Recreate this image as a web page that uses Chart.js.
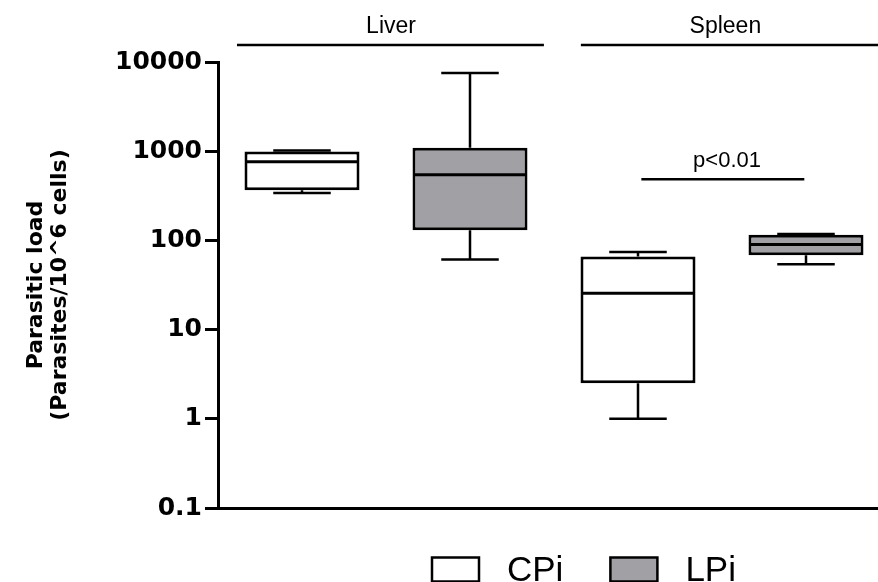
<!DOCTYPE html>
<html><head><meta charset="utf-8">
<script src="https://cdn.jsdelivr.net/npm/chart.js@4.4.1/dist/chart.umd.min.js"></script>
<style>html,body{margin:0;padding:0;background:#fff}#wrap{width:878px;height:582px}</style>
</head><body><div id="wrap"><canvas id="c" width="878" height="582"></canvas></div>
<script>
// ---- data ----
const groups = ['Liver', 'Spleen'];
const seriesNames = ['CPi', 'LPi'];
const cpiMin    = [339, 1.0];
const cpiQ1     = [366, 2.5];
const cpiMedian = [761, 25.5];
const cpiQ3     = [990, 66];
const cpiMax    = [1020, 74];
const lpiMin    = [61, 54];
const lpiQ1     = [130, 68];
const lpiMedian = [543, 90];
const lpiQ3     = [1091, 116];
const lpiMax    = [7550, 118];
const yTickValues = [0.1, 1, 10, 100, 1000, 10000];
const yTickLabels = ['0.1', '1', '10', '100', '1000', '10000'];
const pValueText = 'p<0.01';
const pValueLevel = 485;

// ---- layout / style (not data) ----
const annot = {
  groupSpans: [[0.613, 2.44], [2.66, 4.8]],
  groupLabelX: [1.53, 3.52],
  pSpan: [3.02, 3.99],
  pLabelX: 3.53
};
const GRAY = '#a1a0a4';
const UNIT_PX = 168;

function boxData(groupIdx, seriesIdx, q1, q3) {
  return groupIdx.map((g, i) => ({ x: g * 2 + seriesIdx + 1, y: [q1[i], q3[i]] }));
}
const idx = groups.map((_, i) => i);
const slotPositions = [];
groups.forEach((_, g) => seriesNames.forEach((_, s) => slotPositions.push(g * 2 + s + 1)));

const datasets = [
  { label: seriesNames[0], data: boxData(idx, 0, cpiQ1, cpiQ3),
    wMin: cpiMin, wMed: cpiMedian, wMax: cpiMax, wQ1: cpiQ1, wQ3: cpiQ3,
    backgroundColor: '#ffffff' },
  { label: seriesNames[1], data: boxData(idx, 1, lpiQ1, lpiQ3),
    wMin: lpiMin, wMed: lpiMedian, wMax: lpiMax, wQ1: lpiQ1, wQ3: lpiQ3,
    backgroundColor: GRAY }
].map(d => Object.assign(d, {
  borderColor: '#000', borderWidth: 3, borderSkipped: false,
  grouped: false, barPercentage: 115 / UNIT_PX, categoryPercentage: 1
}));

const whiskerPlugin = {
  id: 'whiskers',
  afterDatasetsDraw(chart) {
    const ctx = chart.ctx, y = chart.scales.y;
    chart.data.datasets.forEach((ds, di) => {
      const meta = chart.getDatasetMeta(di);
      meta.data.forEach((bar, i) => {
        const cx = bar.x, hw = bar.width / 2;
        const pMax = y.getPixelForValue(ds.wMax[i]);
        const pMin = y.getPixelForValue(ds.wMin[i]);
        const pQ3 = y.getPixelForValue(ds.wQ3[i]);
        const pQ1 = y.getPixelForValue(ds.wQ1[i]);
        const pMed = y.getPixelForValue(ds.wMed[i]);
        ctx.save();
        ctx.strokeStyle = '#000';
        ctx.lineWidth = 2.5;
        ctx.beginPath();
        ctx.moveTo(cx, pQ3); ctx.lineTo(cx, pMax);
        ctx.moveTo(cx - hw / 2, pMax); ctx.lineTo(cx + hw / 2, pMax);
        ctx.moveTo(cx, pQ1); ctx.lineTo(cx, pMin);
        ctx.moveTo(cx - hw / 2, pMin); ctx.lineTo(cx + hw / 2, pMin);
        ctx.stroke();
        ctx.lineWidth = 3;
        ctx.beginPath();
        ctx.moveTo(cx - hw + 1.5, pMed); ctx.lineTo(cx + hw - 1.5, pMed);
        ctx.stroke();
        ctx.restore();
      });
    });
  }
};

const annotPlugin = {
  id: 'annot',
  afterDraw(chart) {
    const ctx = chart.ctx, x = chart.scales.x, y = chart.scales.y;
    const top = chart.chartArea.top;
    ctx.save();
    ctx.strokeStyle = '#000';
    ctx.fillStyle = '#000';
    ctx.lineWidth = 2.5;
    ctx.font = '23px "Liberation Sans", Arial, sans-serif';
    ctx.textAlign = 'center';
    ctx.textBaseline = 'alphabetic';
    groups.forEach((g, i) => {
      const s = annot.groupSpans[i];
      ctx.beginPath();
      ctx.moveTo(x.getPixelForValue(s[0]), top - 17);
      ctx.lineTo(x.getPixelForValue(s[1]), top - 17);
      ctx.stroke();
      ctx.fillText(g, x.getPixelForValue(annot.groupLabelX[i]), top - 29);
    });
    const py = y.getPixelForValue(pValueLevel);
    ctx.beginPath();
    ctx.moveTo(x.getPixelForValue(annot.pSpan[0]), py);
    ctx.lineTo(x.getPixelForValue(annot.pSpan[1]), py);
    ctx.stroke();
    ctx.font = '22px "Liberation Sans", Arial, sans-serif';
    ctx.fillText(pValueText, x.getPixelForValue(annot.pLabelX), py - 12);

    // legend
    let lx = 432;
    const ly = 557.5;
    ctx.font = '35px "Liberation Sans", Arial, sans-serif';
    ctx.textAlign = 'left';
    chart.data.datasets.forEach(ds => {
      ctx.fillStyle = ds.backgroundColor;
      ctx.fillRect(lx, ly, 47, 24);
      ctx.lineWidth = 2.5;
      ctx.strokeStyle = '#000';
      ctx.strokeRect(lx, ly, 47, 24);
      ctx.fillStyle = '#000';
      ctx.fillText(ds.label, lx + 75, 581);
      lx += 75 + ctx.measureText(ds.label).width + 47;
    });
    ctx.restore();
  }
};

Chart.defaults.font.family = '"Liberation Sans", Arial, sans-serif';
Chart.defaults.color = '#000';

new Chart(document.getElementById('c'), {
  type: 'bar',
  data: { datasets },
  options: {
    responsive: false,
    animation: false,
    devicePixelRatio: 1,
    layout: { padding: { top: 62, bottom: 74, left: 0, right: 0 } },
    plugins: { legend: { display: false }, tooltip: { enabled: false } },
    scales: {
      x: {
        type: 'linear', min: 0.5, max: 0.5 + 660 / UNIT_PX, offset: false,
        afterBuildTicks(s) { s.ticks = slotPositions.map(v => ({ value: v })); },
        ticks: { display: false },
        grid: { display: false },
        border: { display: true, color: '#000', width: 3 },
        afterFit(s) { s.height = 0; }
      },
      y: {
        type: 'logarithmic', min: 0.1, max: 10000,
        afterBuildTicks(s) { s.ticks = yTickValues.map(v => ({ value: v, major: true })); },
        ticks: {
          padding: 3,
          font: { family: '"DejaVu Sans", sans-serif', weight: 'bold', size: 25 },
          callback: (v) => { const k = yTickValues.indexOf(v); return k >= 0 ? yTickLabels[k] : ''; }
        },
        grid: { display: true, drawOnChartArea: false, drawTicks: true, tickLength: 13, tickWidth: 3, tickColor: '#000', color: '#000' },
        border: { display: true, color: '#000', width: 3 },
        title: {
          display: true,
          text: ['Parasitic load', '(Parasites/10^6 cells)'],
          font: { family: '"DejaVu Sans", sans-serif', weight: 'bold', size: 22, lineHeight: 1.1 },
          padding: { top: 24, bottom: 0 }
        },
        afterFit(s) { s.width = 218; }
      }
    }
  },
  plugins: [whiskerPlugin, annotPlugin]
});
</script>
</body></html>
